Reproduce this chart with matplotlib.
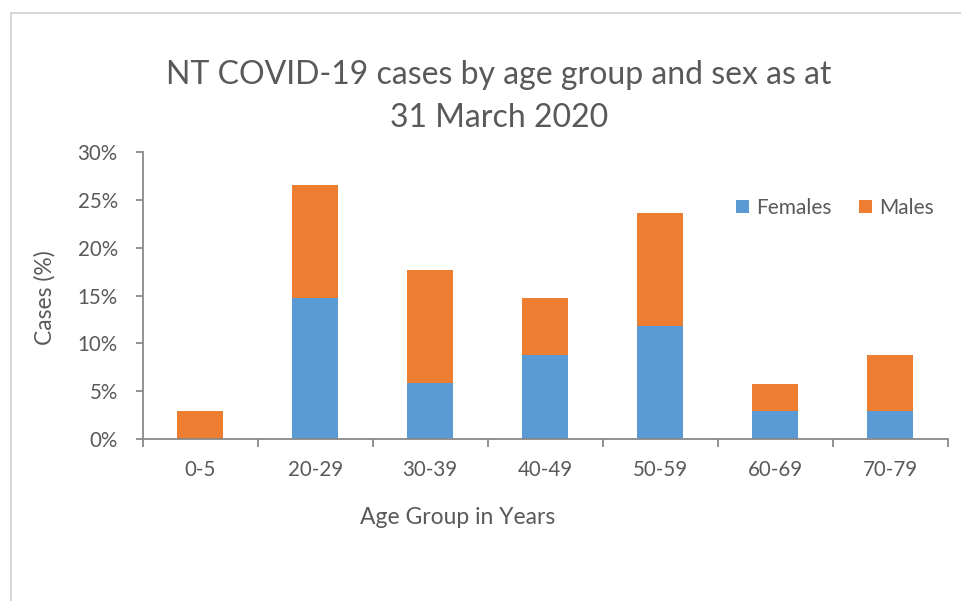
import matplotlib
matplotlib.use("Agg")
import matplotlib.pyplot as plt
from matplotlib.lines import Line2D
from matplotlib.ticker import FuncFormatter
import numpy as np

age_groups = ["0-5", "20-29", "30-39", "40-49", "50-59", "60-69", "70-79"]
females = [0.0, 14.7, 5.9, 8.8, 11.8, 2.9, 2.9]
males = [2.9, 11.8, 11.8, 5.9, 11.8, 2.9, 5.9]
yticks = [0, 5, 10, 15, 20, 25, 30]

BLUE = "#5B9BD5"
ORANGE = "#ED7D31"
TEXT = "#595959"
AXIS = "#898989"
FONT = "Lato"

plt.rcParams["font.family"] = [FONT, "DejaVu Sans"]

fig = plt.figure(figsize=(9.61, 6.01), dpi=100)
ax = fig.add_axes([142.7 / 961, 1 - 439 / 601, (947.7 - 142.7) / 961, (439 - 152) / 601])

x = np.arange(len(age_groups))
ax.bar(x, females, width=0.4, color=BLUE, label="Females")
ax.bar(x, males, width=0.4, bottom=females, color=ORANGE, label="Males")

ax.set_xlim(-0.5, len(age_groups) - 0.5)
ax.set_ylim(0, 30)
ax.set_yticks(yticks)
ax.yaxis.set_major_formatter(FuncFormatter(lambda v, p: f"{int(v)}%"))
ax.set_xticks(x)
ax.set_xticklabels(age_groups)
ax.set_xticks(np.arange(-0.5, len(age_groups)), minor=True)
ax.tick_params(axis="x", which="major", length=0, pad=15, labelsize=14.8, labelcolor=TEXT)
ax.tick_params(axis="x", which="minor", length=6, width=1.3, color=AXIS, direction="out")
ax.tick_params(axis="y", length=5, width=1.3, color=AXIS, pad=13, labelsize=14.8, labelcolor=TEXT)

for s in ["top", "right"]:
    ax.spines[s].set_visible(False)
for s in ["left", "bottom"]:
    ax.spines[s].set_color(AXIS)
    ax.spines[s].set_linewidth(1.3)

leg = ax.legend(loc="center", bbox_to_anchor=(0.86, 0.805), ncol=2, frameon=False,
                fontsize=15, handlelength=0.6, handleheight=0.6, handletextpad=0.35,
                columnspacing=1.35, labelcolor=TEXT)

fig.text(499 / 961, 1 - 75 / 601, "NT COVID-19 cases by age group and sex as at",
         ha="center", va="center", fontsize=23, color=TEXT)
fig.text(499 / 961, 1 - 118 / 601, "31 March 2020",
         ha="center", va="center", fontsize=23, color=TEXT)
fig.text(458 / 961, 1 - 524 / 601, "Age Group in Years", ha="center", va="baseline",
         fontsize=16.5, color=TEXT)
fig.text(45 / 961, 1 - 297.5 / 601, "Cases (%)", ha="center", va="center", rotation=90,
         fontsize=16.5, color=TEXT)

# chart frame (top and left edges)
fig.add_artist(Line2D([11 / 961, 1], [1 - 13 / 601, 1 - 13 / 601], color="#D0D0D0", lw=1.2))
fig.add_artist(Line2D([11 / 961, 11 / 961], [0, 1 - 13 / 601], color="#D0D0D0", lw=1.2))

fig.savefig("out.png", dpi=100)
